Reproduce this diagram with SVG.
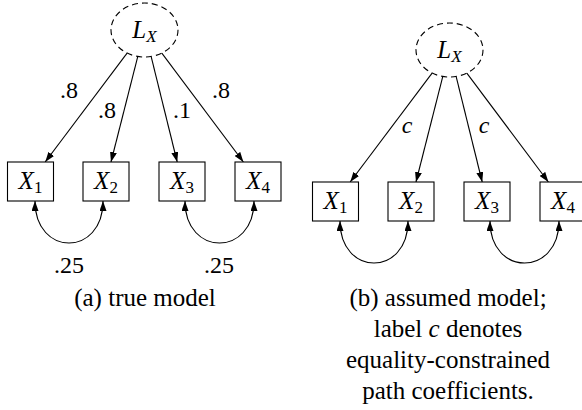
<svg xmlns="http://www.w3.org/2000/svg" width="582" height="410" viewBox="0 0 582 410">
  <style>
    .lbl { font-size: 24px; text-anchor: middle; }
    .cap { font-size: 25px; text-anchor: middle; }
    .var { font-size: 25px; text-anchor: middle; }
    .it { font-style: italic; }
    .sub { font-size: 17px; }
    .latent { fill: #fff; stroke: #000; stroke-width: 1.1; stroke-dasharray: 6 4; }
    .box { fill: #fff; stroke: #000; stroke-width: 1.1; }
    .path { fill: none; stroke: #000; stroke-width: 1.1; marker-end: url(#arrow); }
    .cov { fill: none; stroke: #000; stroke-width: 1.1; marker-start: url(#arrow); marker-end: url(#arrow); }
  </style>
  <defs>
    <marker id="arrow" viewBox="0 0 10 7" refX="10" refY="3.5" markerWidth="10" markerHeight="7" markerUnits="userSpaceOnUse" orient="auto-start-reverse">
      <path d="M0,0 L10,3.5 L0,7 z" fill="#000"/>
    </marker>
  </defs>

  <g font-family="'Liberation Serif', 'Times New Roman', serif" fill="#000">
  <!-- Panel (a): true model -->
  <g id="panel-a">
    <g id="a-connectors">
      <line class="path" x1="127.1" y1="53.1" x2="45.2" y2="162"/>
      <line class="path" x1="137.8" y1="56.4" x2="111.0" y2="162"/>
      <line class="path" x1="151.1" y1="56.4" x2="177.2" y2="162"/>
      <line class="path" x1="161.8" y1="53.1" x2="243.4" y2="162"/>
      <path class="cov" d="M35,201 C35,257 103,257 103,201"/>
      <path class="cov" d="M185,201 C185,257 254,257 254,201"/>
      <text class="lbl" x="69" y="98">.8</text>
      <text class="lbl" x="107" y="118">.8</text>
      <text class="lbl" x="182" y="118">.1</text>
      <text class="lbl" x="221" y="98">.8</text>
      <text class="lbl" x="69" y="273">.25</text>
      <text class="lbl" x="219" y="273">.25</text>
    </g>
    <g id="a-LX">
      <ellipse class="latent" cx="144.5" cy="30" rx="33.5" ry="27"/>
      <text class="var" x="144.5" y="38"><tspan class="it">L</tspan><tspan class="it sub" dy="4">X</tspan></text>
    </g>
    <g id="a-X1">
      <rect class="box" x="7.5" y="162" width="46" height="39"/>
      <text class="var" x="30.5" y="189"><tspan class="it">X</tspan><tspan class="sub" dy="4">1</tspan></text>
    </g>
    <g id="a-X2">
      <rect class="box" x="83" y="162" width="46" height="39"/>
      <text class="var" x="106" y="189"><tspan class="it">X</tspan><tspan class="sub" dy="4">2</tspan></text>
    </g>
    <g id="a-X3">
      <rect class="box" x="159" y="162" width="46" height="39"/>
      <text class="var" x="182" y="189"><tspan class="it">X</tspan><tspan class="sub" dy="4">3</tspan></text>
    </g>
    <g id="a-X4">
      <rect class="box" x="235" y="162" width="46" height="39"/>
      <text class="var" x="258" y="189"><tspan class="it">X</tspan><tspan class="sub" dy="4">4</tspan></text>
    </g>
    <text class="cap" x="145" y="306">(a) true model</text>
  </g>

  <!-- Panel (b): assumed model -->
  <g id="panel-b" transform="translate(305,20)">
    <g id="b-connectors">
      <line class="path" x1="127.1" y1="53.1" x2="45.2" y2="162"/>
      <line class="path" x1="137.8" y1="56.4" x2="111.0" y2="162"/>
      <line class="path" x1="151.1" y1="56.4" x2="177.2" y2="162"/>
      <line class="path" x1="161.8" y1="53.1" x2="243.4" y2="162"/>
      <path class="cov" d="M35,201 C35,257 103,257 103,201"/>
      <path class="cov" d="M185,201 C185,257 254,257 254,201"/>
      <text class="lbl it" x="102" y="113">c</text>
      <text class="lbl it" x="179" y="113">c</text>
    </g>
    <g id="b-LX">
      <ellipse class="latent" cx="144.5" cy="30" rx="33.5" ry="27"/>
      <text class="var" x="144.5" y="38"><tspan class="it">L</tspan><tspan class="it sub" dy="4">X</tspan></text>
    </g>
    <g id="b-X1">
      <rect class="box" x="7.5" y="162" width="46" height="39"/>
      <text class="var" x="30.5" y="189"><tspan class="it">X</tspan><tspan class="sub" dy="4">1</tspan></text>
    </g>
    <g id="b-X2">
      <rect class="box" x="83" y="162" width="46" height="39"/>
      <text class="var" x="106" y="189"><tspan class="it">X</tspan><tspan class="sub" dy="4">2</tspan></text>
    </g>
    <g id="b-X3">
      <rect class="box" x="159" y="162" width="46" height="39"/>
      <text class="var" x="182" y="189"><tspan class="it">X</tspan><tspan class="sub" dy="4">3</tspan></text>
    </g>
    <g id="b-X4">
      <rect class="box" x="235" y="162" width="46" height="39"/>
      <text class="var" x="258" y="189"><tspan class="it">X</tspan><tspan class="sub" dy="4">4</tspan></text>
    </g>
  </g>
  <g id="caption-b">
    <text class="cap" x="448" y="306">(b) assumed model;</text>
    <text class="cap" x="448" y="337">label <tspan class="it">c</tspan> denotes</text>
    <text class="cap" x="448" y="368">equality-constrained</text>
    <text class="cap" x="448" y="399">path coefficients.</text>
  </g>
  </g>
</svg>
